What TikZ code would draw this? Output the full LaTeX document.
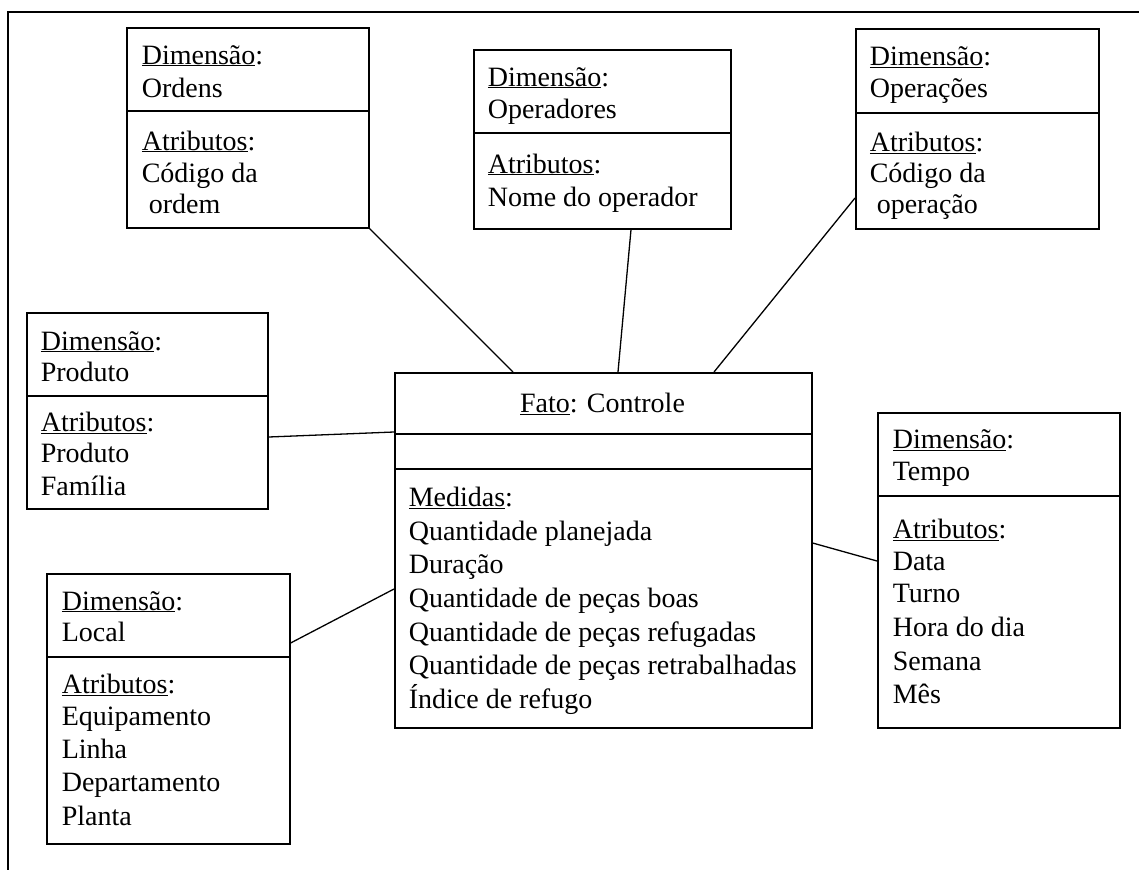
\documentclass[tikz,border=0pt]{standalone}
\usepackage{fontspec}
\setmainfont{Liberation Serif}
\usetikzlibrary{calc}
\begin{document}
\begin{tikzpicture}[x=1pt,y=-1pt,line width=1.6pt,
  box/.style={draw, rectangle, inner sep=0pt, anchor=north west, line width=1.6pt},
  txt/.style={anchor=base west, inner sep=0pt, font=\fontsize{28}{33}\selectfont},
  ttl/.style={anchor=base, inner sep=0pt, font=\fontsize{28}{33}\selectfont},
  link/.style={draw, line width=1.3pt}]
\useasboundingbox (0,0) rectangle (1139,870);
% frame
\draw (1139,12) -- (8,12) -- (8,870);

% Ordens
\node[box, minimum width=242pt, minimum height=200pt] (ordens) at (126,27) {};
\draw ($(ordens.north west)+(0,84)$) -- ($(ordens.north east)+(0,84)$);
\foreach \y/\t [count=\i] in {64/{\underline{Dimensão}:}, 97/Ordens, 150/{\underline{Atributos}:}, 182/{Código da}, 213/{\ ordem}}
  \node[txt] (ordens-\i) at (141,\y) {\t};

% Operadores
\node[box, minimum width=257pt, minimum height=179pt] (operadores) at (473,49) {};
\draw ($(operadores.north west)+(0,84)$) -- ($(operadores.north east)+(0,84)$);
\foreach \y/\t [count=\i] in {86/{\underline{Dimensão}:}, 118/Operadores, 173/{\underline{Atributos}:}, 206/{Nome do operador}}
  \node[txt] (operadores-\i) at (487,\y) {\t};

% Operacoes
\node[box, minimum width=243pt, minimum height=200pt] (operacoes) at (855,28) {};
\draw ($(operacoes.north west)+(0,85)$) -- ($(operacoes.north east)+(0,85)$);
\foreach \y/\t [count=\i] in {65.5/{\underline{Dimensão}:}, 97/Operações, 151.5/{\underline{Atributos}:}, 182/{Código da}, 213/{\ operação}}
  \node[txt] (operacoes-\i) at (869,\y) {\t};

% Produto
\node[box, minimum width=241pt, minimum height=196pt] (produto) at (26,312) {};
\draw ($(produto.north west)+(0,84)$) -- ($(produto.north east)+(0,84)$);
\foreach \y/\t [count=\i] in {350/{\underline{Dimensão}:}, 381/Produto, 431.5/{\underline{Atributos}:}, 462/Produto, 495/Família}
  \node[txt] (produto-\i) at (40,\y) {\t};

% Fato
\node[box, minimum width=417pt, minimum height=355pt] (fato) at (394,372) {};
\draw ($(fato.north west)+(0,62)$) -- ($(fato.north east)+(0,62)$);
\draw ($(fato.north west)+(0,97)$) -- ($(fato.north east)+(0,97)$);
\node[ttl] (fato-t) at (602.5,412.5) {\underline{Fato}: Controle};
\foreach \y/\t [count=\i] in {506.7/{\underline{Medidas}:}, 540.2/{Quantidade planejada}, 573.7/{Duração}, 607.2/{Quantidade de peças boas}, 641.2/{Quantidade de peças refugadas}, 674.7/{Quantidade de peças retrabalhadas}, 708.2/{Índice de refugo}}
  \node[txt] (fato-\i) at (408,\y) {\t};

% Tempo
\node[box, minimum width=242pt, minimum height=315pt] (tempo) at (877,412) {};
\draw ($(tempo.north west)+(0,84)$) -- ($(tempo.north east)+(0,84)$);
\foreach \y/\t [count=\i] in {448.3/{\underline{Dimensão}:}, 480/Tempo, 538.3/{\underline{Atributos}:}, 570/Data, 602/Turno, 636.5/{Hora do dia}, 670/Semana, 703.3/Mês}
  \node[txt] (tempo-\i) at (892,\y) {\t};

% Local
\node[box, minimum width=243pt, minimum height=270pt] (local) at (46,573) {};
\draw ($(local.north west)+(0,84)$) -- ($(local.north east)+(0,84)$);
\foreach \y/\t [count=\i] in {610/{\underline{Dimensão}:}, 641.7/Local, 693.3/{\underline{Atributos}:}, 725/Equipamento, 758.3/Linha, 791.7/Departamento, 825/Planta}
  \node[txt] (local-\i) at (61,\y) {\t};

% connectors
\draw[link] (ordens.south east) -- ($(fato.north west)+(119,0)$);
\draw[link] ($(operadores.south west)+(158,0)$) -- ($(fato.north west)+(224,0)$);
\draw[link] ($(operacoes.north west)+(0,170)$) -- ($(fato.north west)+(320,0)$);
\draw[link] ($(produto.north east)+(0,125)$) -- ($(fato.north west)+(0,60)$);
\draw[link] ($(local.north east)+(0,70)$) -- ($(fato.north west)+(0,217)$);
\draw[link] ($(fato.north east)+(0,171)$) -- ($(tempo.north west)+(0,149)$);
\end{tikzpicture}
\end{document}
